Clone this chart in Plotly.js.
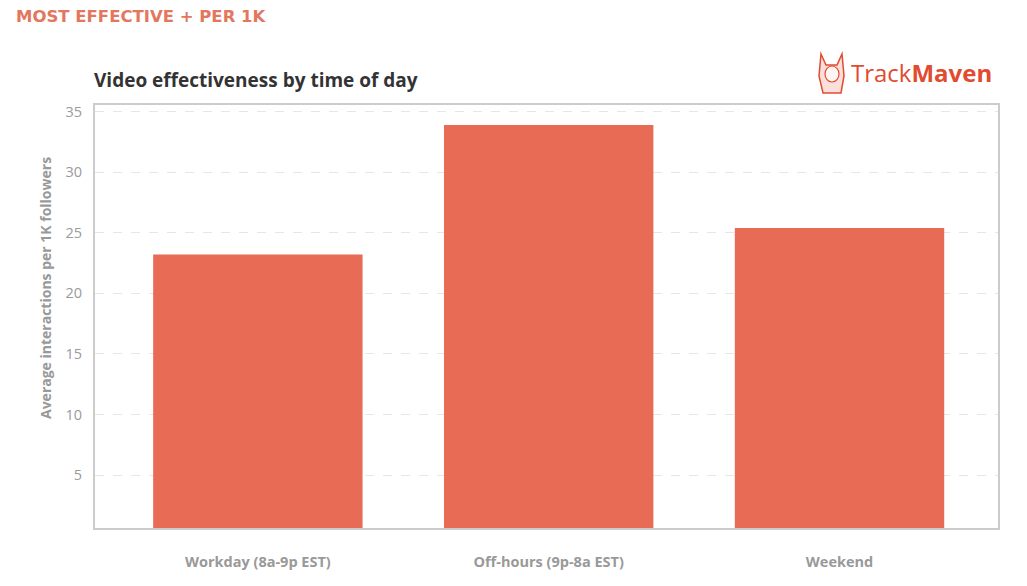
<!DOCTYPE html>
<html>
<head>
<meta charset="utf-8">
<script src="https://cdn.plot.ly/plotly-3.0.1.min.js"></script>
<style>
html,body{margin:0;padding:0;background:#fff;}
#chart{width:1027px;height:586px;}
</style>
</head>
<body>
<div id="chart"></div>
<script>
const categories = ["Workday (8a-9p EST)", "Off-hours (9p-8a EST)", "Weekend"];
const interactionsPer1K = [23.2, 33.9, 25.4];
const yTickValues = [5, 10, 15, 20, 25, 30, 35];

const barColor = "#E86C55";
const accent = "#E2775E";
const F = "'Open Sans', Lato, sans-serif";

const px = v => (v - 95) / 903;
const py = v => 1 + (105 - v) / 423;

const trace = {
  type: "bar",
  x: categories,
  y: interactionsPer1K,
  marker: {color: barColor, line: {width: 0}},
  hoverinfo: "x+y"
};

const layout = {
  width: 1027,
  height: 586,
  margin: {l: 95, r: 29, t: 105, b: 58},
  paper_bgcolor: "#fff",
  plot_bgcolor: "#fff",
  showlegend: false,
  bargap: 0.28,
  font: {family: F, color: "#999"},
  xaxis: {
    type: "category",
    range: [-0.56, 2.545],
    showline: true, mirror: true, linecolor: "#cccccc", linewidth: 2,
    showgrid: false, zeroline: false,
    ticks: "outside", ticklen: 20, tickcolor: "rgba(0,0,0,0)",
    tickfont: {family: F, size: 14.5, color: "#999", weight: "bold"},
    fixedrange: true
  },
  yaxis: {
    range: [0.63, 35.55],
    tickvals: yTickValues,
    showline: true, mirror: true, linecolor: "#cccccc", linewidth: 2,
    showgrid: true, gridcolor: "#e6e6e6", griddash: "dash", gridwidth: 1,
    zeroline: false,
    ticks: "outside", ticklen: 8, tickcolor: "rgba(0,0,0,0)",
    tickfont: {family: F, size: 14.5, color: "#9a9a9a"},
    fixedrange: true
  },
  annotations: [
    {
      xref: "paper", yref: "paper", x: px(14), y: py(17),
      xanchor: "left", yanchor: "middle",
      text: "<b>MOST EFFECTIVE + PER 1K</b>",
      showarrow: false,
      font: {family: "'DejaVu Sans', sans-serif", size: 16.5, color: accent}
    },
    {
      xref: "paper", yref: "paper", x: px(92), y: py(80),
      xanchor: "left", yanchor: "middle",
      text: "<b>Video effectiveness by time of day</b>",
      showarrow: false,
      font: {family: F, size: 19, color: "#333"}
    },
    {
      xref: "paper", yref: "paper", x: px(45), y: py(288),
      xanchor: "center", yanchor: "middle", textangle: -90,
      text: "<b>Average interactions per 1K followers</b>",
      showarrow: false,
      font: {family: F, size: 14, color: "#999"}
    },
    {
      xref: "paper", yref: "paper", x: px(994), y: py(73),
      xanchor: "right", yanchor: "middle",
      text: "Track<b>Maven</b>",
      showarrow: false,
      font: {family: F, size: 24, color: "#E14B30"}
    }
  ],
  shapes: [
    // simple dog mascot near the logo
    {type: "path", xref: "paper", yref: "paper",
     path: "M " + px(821) + "," + py(54) +
           " L " + px(826) + "," + py(65) +
           " L " + px(837) + "," + py(65) +
           " L " + px(842) + "," + py(54) +
           " L " + px(844) + "," + py(76) +
           " L " + px(841) + "," + py(93) +
           " L " + px(823) + "," + py(93) +
           " L " + px(819) + "," + py(76) + " Z",
     line: {color: "#E14B30", width: 1.5}, fillcolor: "rgba(225,75,48,0.18)"},
    {type: "circle", xref: "paper", yref: "paper",
     x0: px(825), x1: px(839), y0: py(82), y1: py(66),
     line: {color: "#E14B30", width: 1.2}, fillcolor: "rgba(255,255,255,0.7)"}
  ]
};

Plotly.newPlot("chart", [trace], layout, {displayModeBar: false, staticPlot: true});
</script>
</body>
</html>
